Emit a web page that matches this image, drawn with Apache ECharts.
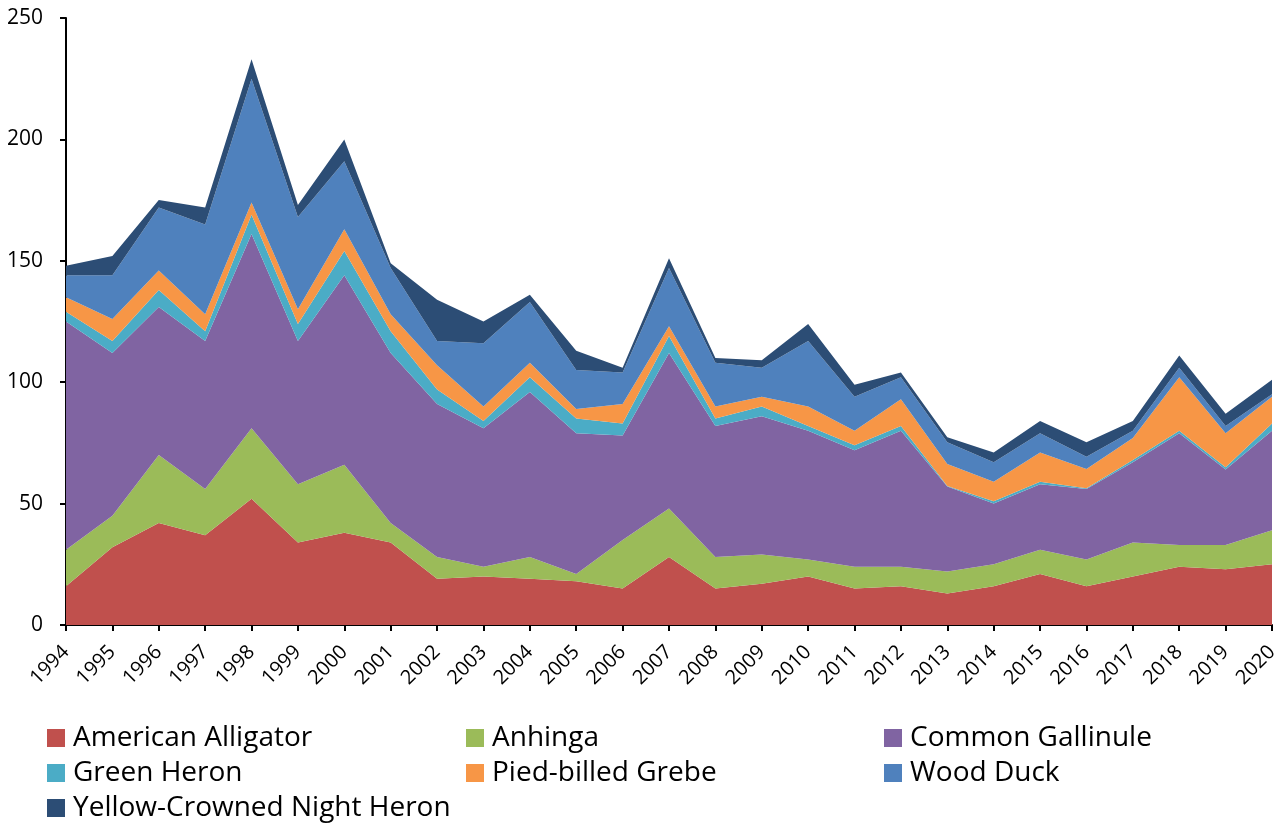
<!DOCTYPE html>
<html>
<head>
<meta charset="utf-8">
<script src="https://cdn.jsdelivr.net/npm/echarts@6/dist/echarts.min.js"></script>
<style>
  html, body { margin: 0; padding: 0; background: #fff; }
  #chart { width: 1284px; height: 823px; }
</style>
</head>
<body>
<div id="chart"></div>
<script>
const years = ['1994', '1995', '1996', '1997', '1998', '1999', '2000', '2001', '2002', '2003',
    '2004', '2005', '2006', '2007', '2008', '2009', '2010', '2011', '2012', '2013',
    '2014', '2015', '2016', '2017', '2018', '2019', '2020'];

const alligator = [16, 32, 42, 37, 52, 34, 38, 34, 19, 20, 19, 18, 15, 28, 15, 17, 20, 15, 16, 13, 16, 21, 16, 20, 24, 23, 25];
const anhinga = [15, 13, 28, 19, 29, 24, 28, 8, 9, 4, 9, 3, 20, 20, 13, 12, 7, 9, 8, 9, 9, 10, 11, 14, 9, 10, 14];
const gallinule = [94, 67, 61, 61, 80, 59, 78, 70, 63, 57, 68, 58, 43, 64, 54, 57, 53, 48, 56, 35, 25, 27, 29, 33, 46, 31, 41];
const greenHeron = [4, 5, 7, 4, 8, 7, 10, 9, 6, 3, 6, 6, 5, 7, 3, 4, 2, 2, 2, 0.3, 1, 1, 0.3, 1, 1, 1, 3];
const grebe = [6, 9, 8, 7, 5, 6, 9, 7, 10, 6, 6, 4, 8, 4, 5, 4, 8, 6, 11, 9, 8, 12, 8, 9, 22, 14, 11];
const woodDuck = [9, 18, 26, 37, 51, 38, 28, 19, 10, 26, 25, 16, 13, 24, 18, 12, 27, 14, 9, 9, 8, 8, 5, 3, 4, 3, 1];
const nightHeron = [4, 8, 3, 7, 8, 5, 9, 2, 17, 9, 3, 8, 2, 4, 2, 3, 7, 5, 2, 2, 4, 5, 6, 4, 5, 5, 6];

const seriesNames = ['American Alligator', 'Anhinga', 'Common Gallinule', 'Green Heron',
    'Pied-billed Grebe', 'Wood Duck', 'Yellow-Crowned Night Heron'];
const seriesData = [alligator, anhinga, gallinule, greenHeron, grebe, woodDuck, nightHeron];
const colors = ['#C0504D', '#9BBB59', '#8064A2', '#4BACC6', '#F79646', '#4F81BD', '#2C4D75'];

const FONT = 'Open Sans';

// one vertical legend per column so the three columns line up like the original
function legendColumn(names, left) {
    return {
        orient: 'vertical',
        left: left,
        top: 724,
        height: 110,
        padding: 0,
        itemWidth: 18,
        itemHeight: 18,
        itemGap: 7,
        icon: 'rect',
        selectedMode: false,
        data: names,
        textStyle: {
            fontFamily: FONT,
            fontSize: 28,
            color: '#000',
            padding: [0, 0, 0, 3]
        }
    };
}

let chart = echarts.init(document.getElementById('chart'));
let option = {
    animation: false,
    color: colors,
    textStyle: { fontFamily: FONT },
    grid: {
        left: 66,
        right: 12,
        top: 18,
        bottom: 198
    },
    legend: [
        legendColumn(['American Alligator', 'Green Heron', 'Yellow-Crowned Night Heron'], 47),
        legendColumn(['Anhinga', 'Pied-billed Grebe'], 466),
        legendColumn(['Common Gallinule', 'Wood Duck'], 884)
    ],
    xAxis: {
        type: 'category',
        data: years,
        boundaryGap: false,
        axisLine: { lineStyle: { color: '#000', width: 2 } },
        axisTick: { show: true, length: 6, alignWithLabel: true, lineStyle: { color: '#000', width: 2 } },
        axisLabel: {
            rotate: 45,
            interval: 0,
            margin: 24,
            fontFamily: FONT,
            fontSize: 20,
            color: '#000'
        }
    },
    yAxis: {
        type: 'value',
        min: 0,
        max: 250,
        interval: 50,
        axisLine: { show: true, lineStyle: { color: '#000', width: 2 } },
        axisTick: { show: true, length: 6, lineStyle: { color: '#000', width: 2 } },
        splitLine: { show: false },
        axisLabel: {
            margin: 23,
            fontFamily: FONT,
            fontSize: 21,
            color: '#000'
        }
    },
    series: seriesNames.map((name, i) => ({
        name: name,
        type: 'line',
        stack: 'total',
        data: seriesData[i],
        symbol: 'none',
        lineStyle: { width: 0 },
        areaStyle: { color: colors[i], opacity: 1 },
        itemStyle: { color: colors[i] }
    }))
};
chart.setOption(option);
</script>
</body>
</html>
